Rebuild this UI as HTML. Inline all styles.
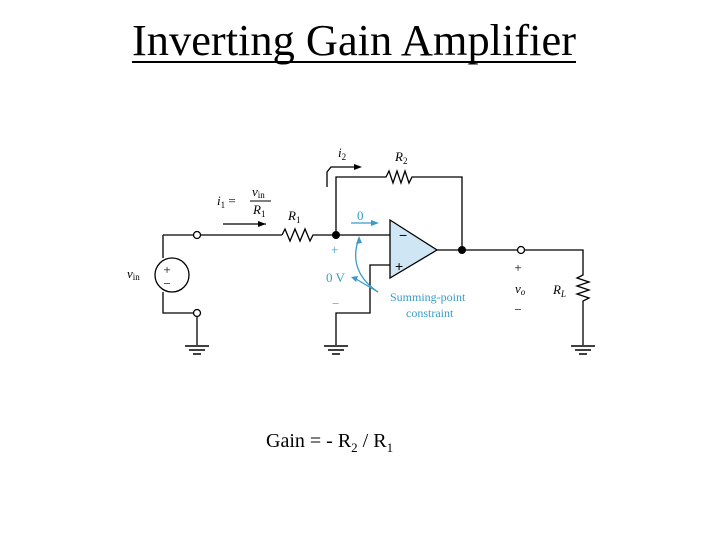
<!DOCTYPE html>
<html><head><style>
body{margin:0;width:720px;height:540px;background:#fff;overflow:hidden;font-family:"Liberation Serif",serif}
</style></head><body>
<svg width="720" height="540" viewBox="0 0 720 540" xmlns="http://www.w3.org/2000/svg" font-family="Liberation Serif, serif">
<text x="132" y="55" font-size="44" textLength="444" lengthAdjust="spacingAndGlyphs">Inverting Gain Amplifier</text>
<line x1="132" y1="62" x2="576" y2="62" stroke="#000" stroke-width="2"/>
<g stroke="#000" stroke-width="1.3" fill="none">
<polyline points="163,235 193,235"/>
<polyline points="163,235 163,258"/>
<polyline points="163,292 163,313 193,313"/>
<circle cx="172" cy="275" r="17"/>
<line x1="197" y1="317" x2="197" y2="345"/>
<circle cx="197" cy="235" r="3.5"/><circle cx="197" cy="313" r="3.5"/>
<line x1="201" y1="235" x2="282" y2="235"/>
<polyline points="282,235 285,229 290,241 295,229 300,241 305,229 310,241 313,235 390,235"/>
<polyline points="336,235 336,177 386,177 389,171 393,183 397,171 401,183 405,171 409,183 412,177 462,177 462,250"/>
<polyline points="437,250 517,250"/>
<circle cx="521" cy="250" r="3.5"/>
<polyline points="525,250 583,250 583,275 577,278 589,282 577,286 589,290 577,294 589,298 583,301 583,345"/>
<polyline points="390,265 370,265 370,313 336,313 336,345"/>
<polyline points="327,187 327,172 331,167 356,167"/>
<polyline points="223,224 266,224"/>
</g>
<g fill="#000">
<polygon points="266,224 258,221 258,227"/>
<polygon points="362,167 354,164 354,170"/>
<circle cx="336" cy="235" r="4"/><circle cx="462" cy="250" r="4"/>
</g>
<g stroke="#000" stroke-width="1.5">
<line x1="185" y1="346" x2="209" y2="346"/><line x1="189" y1="350" x2="205" y2="350"/><line x1="193" y1="354" x2="201" y2="354"/>
<line x1="324" y1="346" x2="348" y2="346"/><line x1="328" y1="350" x2="344" y2="350"/><line x1="332" y1="354" x2="340" y2="354"/>
<line x1="571" y1="346" x2="595" y2="346"/><line x1="575" y1="350" x2="591" y2="350"/><line x1="579" y1="354" x2="587" y2="354"/>
</g>
<polygon points="390,220 390,278 437,250" fill="#cfe6f5" stroke="#000" stroke-width="1.3"/>
<text x="399" y="240" font-size="14" font-family="Liberation Sans,sans-serif">−</text>
<text x="395" y="271" font-size="14" font-family="Liberation Sans,sans-serif">+</text>
<g font-size="13">
<text x="167" y="274" text-anchor="middle">+</text><text x="167" y="288" text-anchor="middle">−</text>
<text x="127" y="278" font-style="italic">v<tspan font-size="9" dy="2" font-style="normal">in</tspan></text>
<text x="217" y="205" font-style="italic">i<tspan font-size="9" dy="3" font-style="normal">1</tspan><tspan dy="-3" font-style="normal"> =</tspan></text>
<text x="252" y="196" font-style="italic">v<tspan font-size="9" dy="2" font-style="normal">in</tspan></text>
<line x1="250" y1="201" x2="271" y2="201" stroke="#000"/>
<text x="253" y="214" font-style="italic">R<tspan font-size="9" dy="3" font-style="normal">1</tspan></text>
<text x="288" y="220" font-style="italic">R<tspan font-size="9" dy="3" font-style="normal">1</tspan></text>
<text x="338" y="157" font-style="italic">i<tspan font-size="9" dy="3" font-style="normal">2</tspan></text>
<text x="395" y="161" font-style="italic">R<tspan font-size="9" dy="3" font-style="normal">2</tspan></text>
<text x="518" y="272" text-anchor="middle">+</text>
<text x="515" y="293" font-style="italic">v<tspan font-size="9" dy="2">o</tspan></text>
<text x="518" y="314" text-anchor="middle">−</text>
<text x="553" y="294" font-style="italic">R<tspan font-size="9" dy="3">L</tspan></text>
</g>
<g fill="#3a9cc6" font-size="13">
<text x="357" y="220">0</text>
<text x="331" y="254">+</text>
<text x="326" y="282">0 V</text>
<text x="332" y="308">−</text>
<text x="390" y="301" font-size="12">Summing-point</text>
<text x="406" y="317" font-size="12">constraint</text>
</g>
<g stroke="#3a9cc6" stroke-width="1.3" fill="none">
<line x1="351" y1="223" x2="375" y2="223"/>
<path d="M378,292 C360,280 350,262 359,238"/>
<line x1="378" y1="292" x2="356" y2="279"/>
</g>
<g fill="#3a9cc6">
<polygon points="379,223 371,220 371,226"/>
<polygon points="359,236 356,244 362,243"/>
<polygon points="351,277 358,276 356,282"/>
</g>
<text x="266" y="447" font-size="20">Gain = - R<tspan font-size="13" dy="5">2</tspan><tspan dy="-5"> / R</tspan><tspan font-size="13" dy="5">1</tspan></text>
</svg>
</body></html>
